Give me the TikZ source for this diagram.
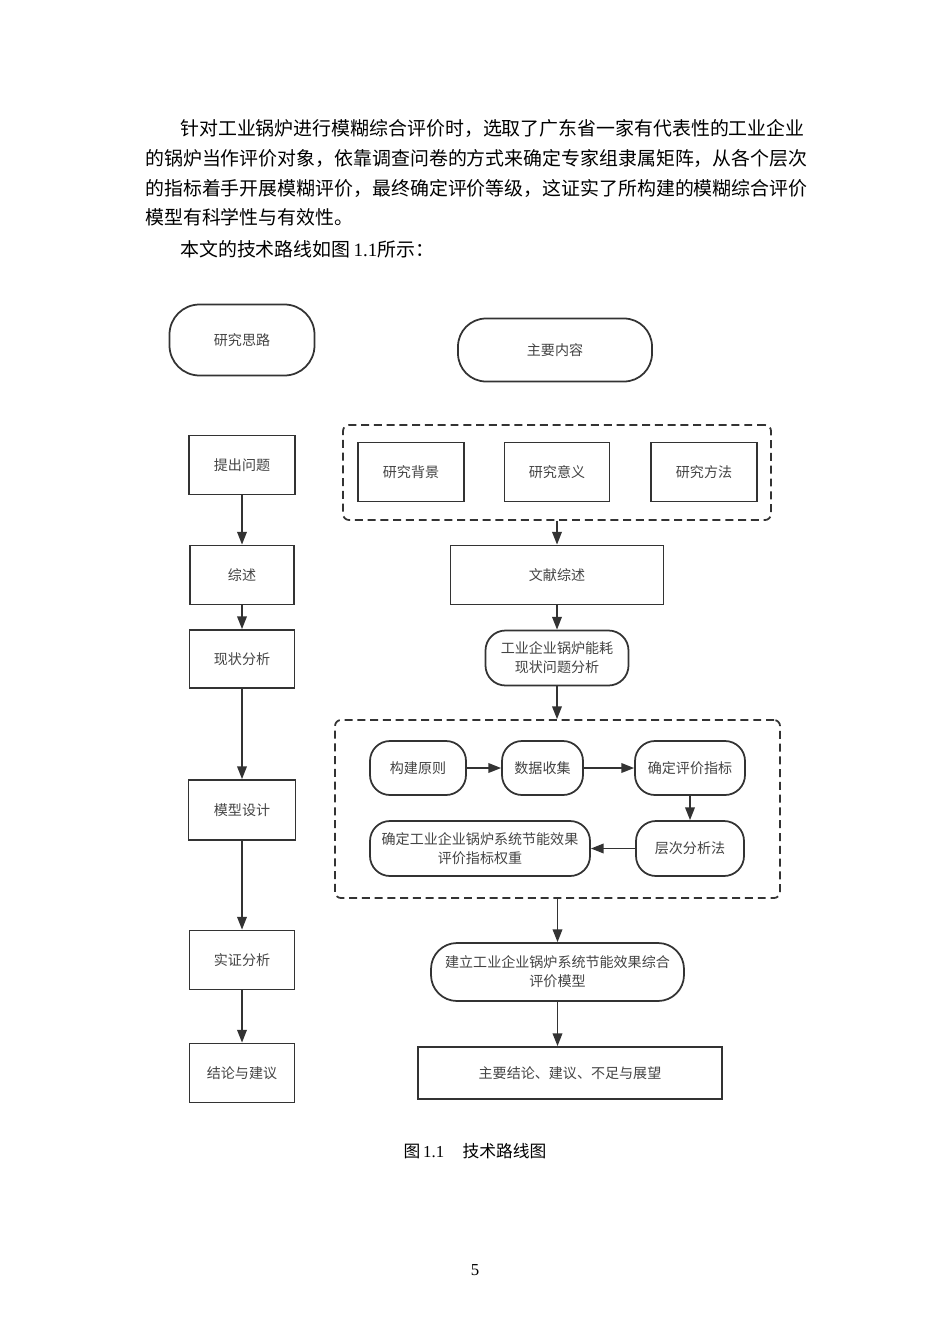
\documentclass[tikz,border=0pt]{standalone}
\usepackage{fontspec}
\setmainfont{Liberation Serif}
\newfontfamily\cjk{Noto Sans CJK SC}
\usetikzlibrary{arrows.meta}
\definecolor{linegray}{HTML}{333333}
\definecolor{textgray}{HTML}{444444}
\def\pxu{0.6264pt}
\tikzset{
  box/.style 2 args={draw=linegray, line width=1.1pt, text=textgray,
    font=\cjk\fontsize{8.8pt}{12pt}\selectfont, align=center, inner sep=0pt,
    minimum width=#1*\pxu, minimum height=#2*\pxu},
  rbox/.style 2 args={box={#1}{#2}, rounded corners=20*\pxu},
  dbox/.style 2 args={draw=linegray, line width=1.1pt, dash pattern=on 5pt off 3pt,
    rounded corners=6*\pxu, inner sep=0pt, minimum width=#1*\pxu, minimum height=#2*\pxu},
  arr/.style={draw=linegray, line width=1.1pt, -{Triangle[length=8pt,width=6pt]}},
  bodytext/.style={anchor=west, inner sep=0pt, font=\cjk\fontsize{11.85pt}{14pt}\selectfont}
}
\begin{document}
\begin{tikzpicture}[x=0.6264pt, y=-0.6264pt]
  \useasboundingbox[fill=white] (0,0) rectangle (950,1344);
  % paragraph above the figure
  \node[bodytext] (line1) at (180,128) {针对工业锅炉进行模糊综合评价时，选取了广东省一家有代表性的工业企业};
  \node[bodytext] (line2) at (145,158) {的锅炉当作评价对象，依靠调查问卷的方式来确定专家组隶属矩阵，从各个层次};
  \node[bodytext] (line3) at (145,188) {的指标着手开展模糊评价，最终确定评价等级，这证实了所构建的模糊综合评价};
  \node[bodytext] (line4) at (145,217) {模型有科学性与有效性。};
  \node[bodytext] (line5) at (180,249) {本文的技术路线如图\,{\rmfamily 1.1}所示：};

  % left column
  \node[rbox={145}{71}, rounded corners=30*\pxu] (silu) at (242,340) {研究思路};
  \node[box={106}{59}] (tichu) at (242,465) {提出问题};
  \node[box={104}{59}] (zongshu) at (242,575) {综述};
  \node[box={105}{58}] (xianzhuang) at (242,659) {现状分析};
  \node[box={107}{60}] (sheji) at (242,810) {模型设计};
  \node[box={105}{59}] (shizheng) at (242,960) {实证分析};
  \node[box={105}{59}] (jielun) at (242,1073) {结论与建议};

  % right column
  \node[rbox={194}{63}, rounded corners=28*\pxu] (neirong) at (555,350) {主要内容};
  \node[dbox={428}{95}] (groupA) at (557,472.5) {};
  \node[box={106}{59}] (beijing) at (411,472) {研究背景};
  \node[box={105}{59}] (yiyi) at (557,472) {研究意义};
  \node[box={106}{59}] (fangfa) at (704,472) {研究方法};
  \node[box={213}{59}] (wenxian) at (557,575) {文献综述};
  \node[rbox={143}{55}] (nenghao) at (557,658) {工业企业锅炉能耗\\现状问题分析};
  \node[dbox={445}{178}] (groupB) at (557.5,809) {};
  \node[rbox={96}{54}] (yuanze) at (418,768) {构建原则};
  \node[rbox={81}{54}] (shouji) at (542.5,768) {数据收集};
  \node[rbox={110}{54}] (zhibiao) at (690,768) {确定评价指标};
  \node[rbox={108}{55}] (cengci) at (690,848.5) {层次分析法};
  \node[rbox={220}{55}] (quanzhong) at (480,848.5) {确定工业企业锅炉系统节能效果\\评价指标权重};
  \node[rbox={253}{58}, rounded corners=26*\pxu] (moxing) at (557.5,972) {建立工业企业锅炉系统节能效果综合\\评价模型};
  \node[box={304}{52}] (zhanwang) at (570,1073) {主要结论、建议、不足与展望};

  \draw[arr] (tichu) -- (zongshu);
  \draw[arr] (zongshu) -- (xianzhuang);
  \draw[arr] (xianzhuang) -- (sheji);
  \draw[arr] (sheji) -- (shizheng);
  \draw[arr] (shizheng) -- (jielun);

  \draw[arr] (groupA.south) -- (wenxian.north);
  \draw[arr] (wenxian) -- (nenghao);
  \draw[arr] (nenghao.south) -- (nenghao.south|-groupB.north);
  \draw[arr] (yuanze) -- (shouji);
  \draw[arr] (shouji) -- (zhibiao);
  \draw[arr] (zhibiao) -- (cengci);
  \draw[arr] (cengci) -- (quanzhong);
  \draw[arr] (groupB.south) -- (moxing.north);
  \draw[arr] (moxing.south) -- (moxing.south|-zhanwang.north);

  % caption and page number
  \node[font=\fontsize{10.5pt}{12pt}\selectfont] (caption) at (475,1151) {{\cjk 图}\,1.1\hspace{1.1em}{\cjk 技术路线图}};
  \node[font=\fontsize{10.5pt}{12pt}\selectfont] (pagenum) at (475,1270) {5};
\end{tikzpicture}
\end{document}
